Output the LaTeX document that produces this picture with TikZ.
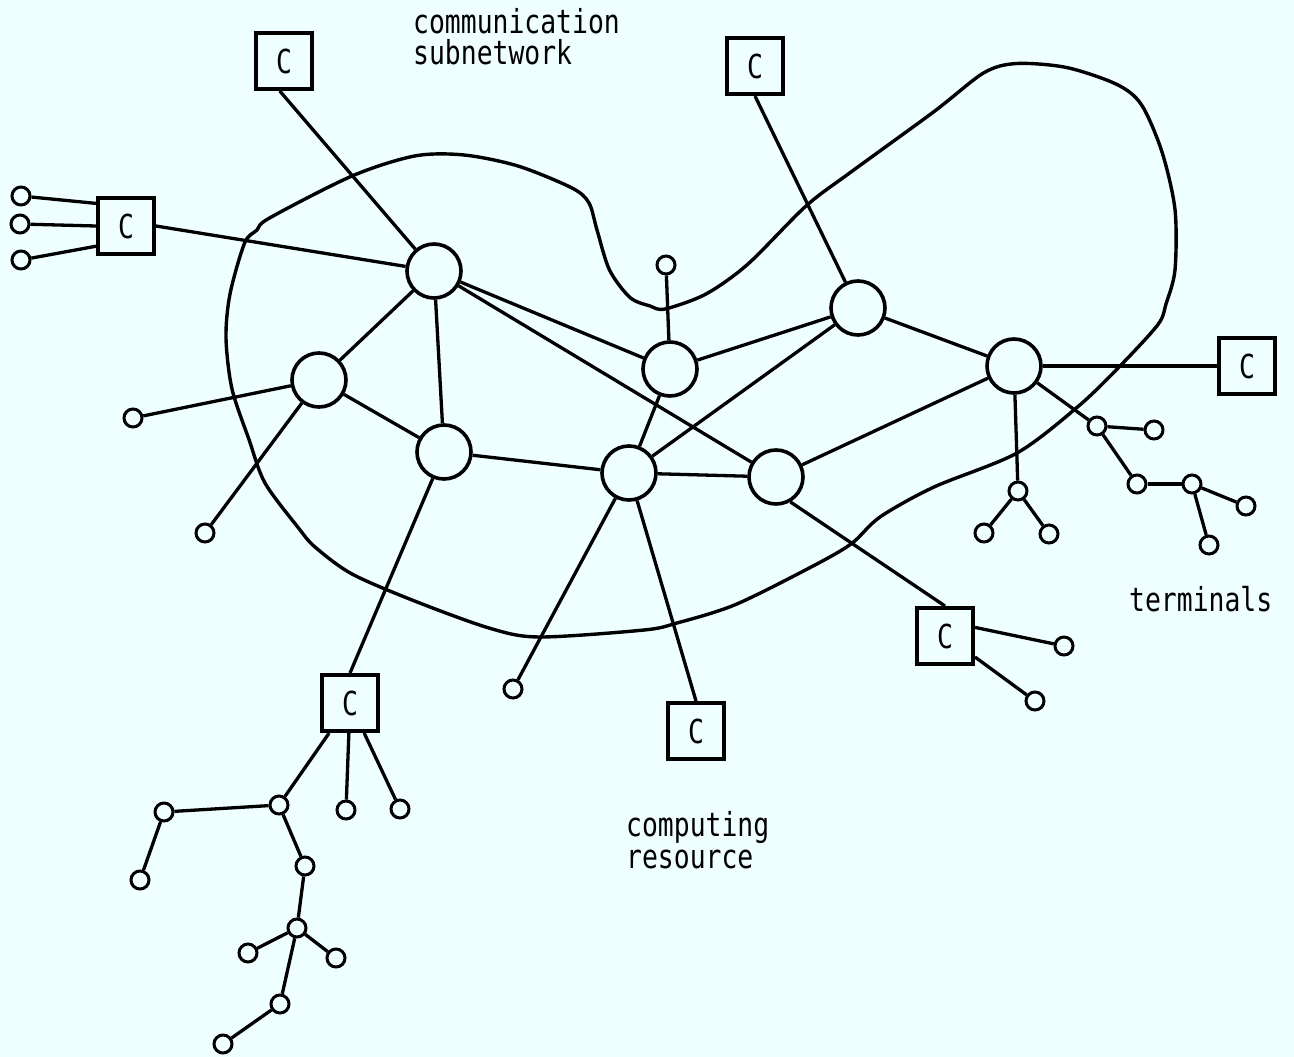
\documentclass[tikz,border=0pt]{standalone}
\usepackage{fontspec}
\newfontfamily\tfont[FakeStretch=0.8]{DejaVu Sans Mono}
\definecolor{bg}{HTML}{EFFEFF}
\begin{document}
\begin{tikzpicture}[x=1pt,y=-1pt,
  big/.style={circle,draw,line width=3.6pt,minimum size=54pt,inner sep=0pt,fill=bg},
  sm/.style={circle,draw,line width=3pt,minimum size=18pt,inner sep=0pt,fill=bg},
  cbox/.style={rectangle,draw,line width=4pt,minimum size=56pt,inner sep=0pt,fill=bg,font={\tfont\fontsize{33}{33}\selectfont}},
  lab/.style={font={\tfont\fontsize{33}{31.5}\selectfont},align=left,anchor=base west,inner sep=0pt},
  link/.style={line width=3.3pt},
  blob/.style={line width=3.4pt}]
\useasboundingbox (0,0) rectangle (1294,1057);
\fill[bg] (0,0) rectangle (1294,1057);
% subnetwork boundary
\draw[blob] plot[smooth cycle,tension=0.5] coordinates {
(269.5,218) (352,176) (414.6,156) (464,155) (518,166) (572,188) (589,203) (597,230)
(609.5,270) (630,297.5) (650,306) (665,309) (706,294) (748,264) (806,206) (851,172)
(934,111.6) (984,72.7) (1017,63.5) (1067,67.6) (1117,84.5) (1141.5,104.8) (1162,152)
(1175,209.6) (1175,270) (1166,304) (1158,324.5) (1121,365) (1079,405.7) (1017,453)
(934,487) (880,517) (851,544) (810,567.6) (735,604.8) (677,623) (644,630) (539,637)
(489,628) (414.6,601) (352,574) (315,547) (298.5,528) (265,483) (249,439.5) (232,389)
(226,338) (230,294) (244.6,243) (257,230)};
% switching nodes
\node[big] (A) at (434,271) {};
\node[big] (B) at (319,380) {};
\node[big] (D) at (444,452) {};
\node[big] (E) at (670,369) {};
\node[big] (F) at (858,308) {};
\node[big] (G) at (1014,366) {};
\node[big] (H) at (629,473) {};
\node[big] (I) at (776,477) {};
% computers
\node[cbox] (C1) at (284,61) {C};
\node[cbox] (C2) at (126,226) {C};
\node[cbox] (C3) at (755,66) {C};
\node[cbox] (C4) at (1247,366) {C};
\node[cbox] (C5) at (350,703) {C};
\node[cbox] (C6) at (696,731) {C};
\node[cbox] (C7) at (945,636) {C};
% terminals
\node[sm] (s1) at (21,196) {};
\node[sm] (s2) at (20,224) {};
\node[sm] (s3) at (21,260) {};
\node[sm] (s4) at (133,418) {};
\node[sm] (s5) at (205,533) {};
\node[sm] (s6) at (666,265) {};
\node[sm] (s7) at (513,689) {};
\node[sm] (t1) at (279,805) {};
\node[sm] (t2) at (346,810) {};
\node[sm] (t3) at (400,809) {};
\node[sm] (t4) at (164,812) {};
\node[sm] (t5) at (140,880) {};
\node[sm] (t6) at (305,866) {};
\node[sm] (t7) at (297,928) {};
\node[sm] (t8) at (248,953) {};
\node[sm] (t9) at (336,958) {};
\node[sm] (t10) at (280,1004) {};
\node[sm] (t11) at (223,1044) {};
\node[sm] (g1) at (1018,491) {};
\node[sm] (g2) at (984,533) {};
\node[sm] (g3) at (1049,534) {};
\node[sm] (g4) at (1097,426) {};
\node[sm] (g5) at (1154,430) {};
\node[sm] (g6) at (1137,484) {};
\node[sm] (g7) at (1192,484) {};
\node[sm] (g8) at (1246,506) {};
\node[sm] (g9) at (1209,545) {};
\node[sm] (k1) at (1064,646) {};
\node[sm] (k2) at (1035,701) {};
% links
\draw[link] (A) -- (B);
\draw[link] (A) -- (D);
\draw[link] (A) -- (E);
\draw[link] (A) -- (I);
\draw[link] (C1.-98) -- (A);
\draw[link] (C2.east) -- (A);
\draw[link] (B) -- (D);
\draw[link] (B) -- (s4);
\draw[link] (B) -- (s5);
\draw[link] (D) -- (H);
\draw[link] (D) -- (C5.north);
\draw[link] (E) -- (F);
\draw[link] (E) -- (H);
\draw[link] (E) -- (s6);
\draw[link] (F) -- (G);
\draw[link] (F) -- (H);
\draw[link] (C3.south) -- (F);
\draw[link] (G) -- (I);
\draw[link] (G) -- (C4);
\draw[link] (G) -- (g1);
\draw[link] (G) -- (g4);
\draw[link] (H) -- (I);
\draw[link] (H) -- (s7);
\draw[link] (H) -- (C6.north);
\draw[link] (I.-60) -- (C7.north);
\draw[link] (s1) -- (C2.143);
\draw[link] (s2) -- (C2.west);
\draw[link] (s3) -- (C2.214);
\draw[link] (C5) -- (t1);
\draw[link] (C5) -- (t2);
\draw[link] (C5) -- (t3);
\draw[link] (t1) -- (t4);
\draw[link] (t4) -- (t5);
\draw[link] (t1) -- (t6);
\draw[link] (t6) -- (t7);
\draw[link] (t7) -- (t8);
\draw[link] (t7) -- (t9);
\draw[link] (t7) -- (t10);
\draw[link] (t10) -- (t11);
\draw[link] (g1) -- (g2);
\draw[link] (g1) -- (g3);
\draw[link] (g4) -- (g5);
\draw[link] (g4) -- (g6);
\draw[link] (g6) -- (g7);
\draw[link] (g7) -- (g8);
\draw[link] (g7) -- (g9);
\draw[link] (C7.16) -- (k1);
\draw[link] (C7.-35) -- (k2);
% labels (base anchor = baseline of the last line)
\node[lab] (l1) at (413,64.5) {communication\\subnetwork};
\node[lab] (l2) at (626,868) {computing\\resource};
\node[lab] (l3) at (1129,611) {terminals};
\end{tikzpicture}
\end{document}
